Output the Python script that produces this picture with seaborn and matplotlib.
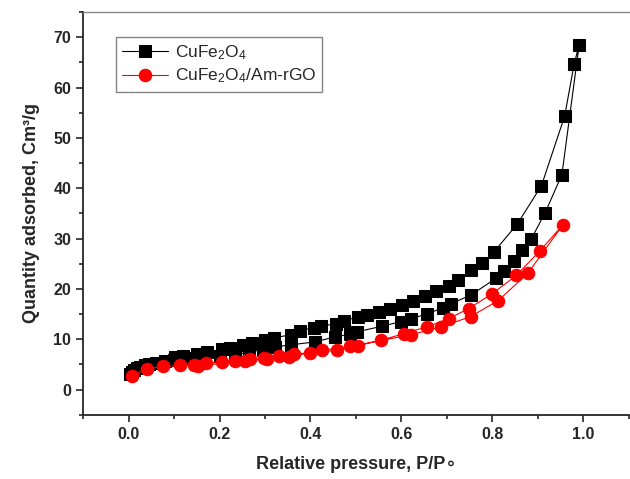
import numpy as np
import pandas as pd
import matplotlib
matplotlib.use('Agg')
import matplotlib.pyplot as plt
from matplotlib.ticker import MultipleLocator
import seaborn as sns

# CuFe2O4: adsorption branch (up) then desorption branch (down)
cufe_ads_p = [0.004, 0.008, 0.012, 0.018, 0.025, 0.035, 0.045, 0.06, 0.08, 0.10, 0.13, 0.16, 0.20,
              0.235, 0.264, 0.295, 0.323, 0.358, 0.411, 0.455, 0.486, 0.503, 0.558, 0.598, 0.620,
              0.656, 0.692, 0.710, 0.753, 0.808, 0.825, 0.847, 0.866, 0.886, 0.916, 0.953, 0.991]
cufe_ads_q = [3.2, 3.6, 3.9, 4.2, 4.5, 4.8, 5.0, 5.3, 5.6, 5.9, 6.2, 6.5, 6.7,
              6.9, 7.5, 7.9, 8.5, 8.9, 9.5, 10.5, 11.0, 11.5, 12.6, 13.5, 14.1,
              15.0, 16.3, 17.1, 18.8, 22.1, 23.5, 25.5, 27.7, 30.0, 35.1, 42.7, 68.5]
cufe_des_p = [0.980, 0.959, 0.908, 0.855, 0.803, 0.777, 0.753, 0.724, 0.704, 0.677, 0.651, 0.626,
              0.601, 0.574, 0.550, 0.524, 0.504, 0.473, 0.456, 0.423, 0.407, 0.376, 0.358, 0.319,
              0.301, 0.272, 0.252, 0.223, 0.206, 0.173, 0.151, 0.120, 0.101]
cufe_des_q = [64.7, 54.3, 40.5, 32.9, 27.3, 25.1, 23.7, 21.7, 20.6, 19.5, 18.5, 17.7,
              16.8, 16.1, 15.5, 14.9, 14.4, 13.7, 13.1, 12.6, 12.3, 11.7, 10.9, 10.3,
              9.8, 9.3, 8.8, 8.2, 8.0, 7.5, 7.0, 6.7, 6.5]

# CuFe2O4/Am-rGO
rgo_ads_p = [0.007, 0.040, 0.075, 0.113, 0.153, 0.255, 0.305, 0.352, 0.426, 0.488, 0.621,
             0.688, 0.752, 0.813, 0.878, 0.955]
rgo_ads_q = [2.8, 4.1, 4.6, 4.8, 4.7, 5.7, 6.1, 6.5, 7.8, 8.6, 10.9,
             12.5, 14.5, 17.7, 23.1, 32.7]
rgo_des_p = [0.905, 0.853, 0.799, 0.748, 0.704, 0.657, 0.605, 0.554, 0.504, 0.458, 0.400,
             0.363, 0.330, 0.297, 0.266, 0.233, 0.205, 0.171, 0.144]
rgo_des_q = [27.6, 22.7, 19.0, 16.1, 14.1, 12.5, 11.1, 9.8, 8.7, 7.8, 7.3,
             7.1, 6.6, 6.2, 6.0, 5.7, 5.4, 5.3, 4.9]

sns.set_style('ticks')
plt.rcParams['font.family'] = ['Liberation Sans', 'DejaVu Sans']
plt.rcParams['mathtext.fontset'] = 'custom'
plt.rcParams['mathtext.rm'] = 'Liberation Sans'
plt.rcParams['mathtext.it'] = 'Liberation Sans'

fig = plt.figure(figsize=(6.30, 4.79), dpi=100)
ax = fig.add_axes([0.132, 0.134, 0.866, 0.841])

cufe = pd.DataFrame({'p': cufe_ads_p + cufe_des_p, 'q': cufe_ads_q + cufe_des_q})
rgo = pd.DataFrame({'p': rgo_ads_p + rgo_des_p, 'q': rgo_ads_q + rgo_des_q})

sns.lineplot(data=cufe, x='p', y='q', sort=False, estimator=None, ax=ax,
             color='black', linewidth=0.8, marker='s', markersize=8,
             markeredgecolor='black', label='CuFe$_2$O$_4$')
sns.lineplot(data=rgo, x='p', y='q', sort=False, estimator=None, ax=ax,
             color='red', linewidth=0.8, marker='o', markersize=9,
             markeredgecolor='red', label='CuFe$_2$O$_4$/Am-rGO')

ax.set_xlim(-0.1, 1.1)
ax.set_ylim(-5, 75)
ax.xaxis.set_minor_locator(MultipleLocator(0.1))
ax.yaxis.set_minor_locator(MultipleLocator(5))
ax.set_xticks([0.0, 0.2, 0.4, 0.6, 0.8, 1.0])
ax.set_xticklabels(['0.0', '0.2', '0.4', '0.6', '0.8', '1.0'])
ax.set_yticks([0, 10, 20, 30, 40, 50, 60, 70])
ax.tick_params(axis='both', which='major', direction='out', length=5, width=1.2,
               labelsize=11.5)
ax.tick_params(axis='both', which='minor', direction='out', length=3, width=1.2)
for lbl in ax.get_xticklabels() + ax.get_yticklabels():
    lbl.set_fontweight('bold')

ax.spines['left'].set_linewidth(1.3)
ax.spines['bottom'].set_linewidth(1.3)
ax.spines['top'].set_color('#888888')
ax.spines['top'].set_linewidth(1.0)
ax.spines['right'].set_visible(False)

ax.set_xlabel('Relative pressure, P/P\u2218', fontsize=13, fontweight='bold', labelpad=10)
ax.set_ylabel('Quantity adsorbed, Cm\u00b3/g', fontsize=13, fontweight='bold', labelpad=10)

leg = ax.legend(loc='upper left', bbox_to_anchor=(0.045, 0.96), fontsize=12.5,
                frameon=True, fancybox=False, edgecolor='#666666', handlelength=2.6,
                borderpad=0.35, labelspacing=0.3, handletextpad=0.4)
leg.get_frame().set_linewidth(1.0)

fig.savefig('out.png', dpi=100)
